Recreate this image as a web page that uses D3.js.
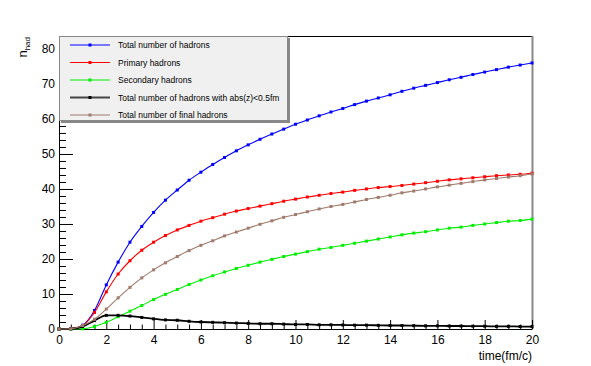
<!DOCTYPE html>
<html><head><meta charset="utf-8">
<script src="https://cdn.jsdelivr.net/npm/d3@7"></script>
<style>body{margin:0;background:#fff}svg{display:block}text{font-family:"Liberation Sans",Arial,sans-serif}</style>
</head><body>
<script>
const times = d3.range(0, 20.0001, 0.5);
const totalHadrons = [0,0.1,1.1,5.3,12.6,19.1,24.8,29.3,33.3,36.8,39.7,42.5,44.8,47.0,49.0,50.9,52.6,54.2,55.7,57.1,58.5,59.7,60.9,62.0,63.0,64.1,65.1,66.0,66.9,67.9,68.8,69.6,70.4,71.2,71.9,72.7,73.4,74.1,74.8,75.4,76.0];
const primaryHadrons = [0,0.1,1.0,4.7,10.6,15.7,19.5,22.5,24.8,26.7,28.3,29.6,30.8,31.8,32.8,33.7,34.4,35.1,35.8,36.5,37.1,37.7,38.2,38.7,39.1,39.6,40.0,40.4,40.7,41.0,41.4,41.8,42.2,42.6,42.9,43.2,43.5,43.8,44.0,44.2,44.5];
const secondaryHadrons = [0,0,0.05,0.7,1.9,3.5,5.1,6.7,8.4,9.9,11.3,12.7,14.0,15.2,16.3,17.3,18.2,19.1,19.9,20.7,21.4,22.1,22.8,23.3,23.9,24.5,25.1,25.7,26.3,26.9,27.4,27.8,28.3,28.8,29.1,29.6,30.0,30.4,30.8,31.0,31.4];
const centralHadrons = [0,0.05,0.7,2.4,3.9,3.9,3.7,3.3,2.9,2.6,2.5,2.2,2.0,1.9,1.8,1.7,1.6,1.5,1.5,1.4,1.3,1.3,1.2,1.2,1.15,1.1,1.1,1.05,1.0,1.0,0.95,0.9,0.9,0.85,0.85,0.8,0.8,0.75,0.75,0.7,0.7];
const finalHadrons = [0,0.05,1.0,2.8,5.7,8.9,11.9,14.6,16.9,18.9,20.7,22.4,23.9,25.2,26.6,27.7,28.8,29.9,30.9,31.9,32.7,33.5,34.3,35.0,35.6,36.3,37.0,37.6,38.2,38.9,39.4,40.0,40.6,41.1,41.6,42.1,42.6,43.0,43.4,43.8,44.3];
const seriesNames = ["Total number of hadrons","Primary hadrons","Secondary hadrons","Total number of hadrons with abs(z)<0.5fm","Total number of final hadrons"];
const seriesColors = ["#0000ff","#ff0000","#00ee00","#000000","#a07a6c"];
const seriesData = [totalHadrons, primaryHadrons, secondaryHadrons, centralHadrons, finalHadrons];
const xTicks = [0,2,4,6,8,10,12,14,16,18,20];
const yTicks = [0,10,20,30,40,50,60,70,80];

const W = 591, H = 366;
const L = 59, R = 532, T = 36, B = 329;
const svg = d3.select("body").append("svg").attr("width", W).attr("height", H);
const x = d3.scaleLinear().domain([0, 20]).range([L, R]);
const y = d3.scaleLinear().domain([0, 83.7]).range([B, T]);

// frame
svg.append("line").attr("x1", L).attr("x2", R).attr("y1", T + 0.5).attr("y2", T + 0.5).attr("stroke", "#000");
svg.append("line").attr("x1", R + 0.5).attr("x2", R + 0.5).attr("y1", T).attr("y2", B).attr("stroke", "#888").attr("stroke-width", 2);

// axes
const xAxis = d3.axisBottom(x).tickValues(xTicks).tickSize(0).tickPadding(6);
const gx = svg.append("g").attr("transform", `translate(0,${B})`).call(xAxis);
gx.select(".domain").attr("stroke", "#000");
gx.selectAll("text").attr("font-size", 12).attr("fill", "#000");
const xMinor = d3.range(0, 20.0001, 0.5);
svg.append("g").selectAll("line").data(xMinor).join("line")
  .attr("x1", d => x(d) + 0.5).attr("x2", d => x(d) + 0.5)
  .attr("y1", B).attr("y2", d => B - (d % 2 === 0 ? 9 : 4.5)).attr("stroke", "#000");

const yAxis = d3.axisLeft(y).tickValues(yTicks).tickSize(0).tickPadding(4);
const gy = svg.append("g").attr("transform", `translate(${L},0)`).call(yAxis);
gy.select(".domain").attr("stroke", "#000");
gy.selectAll("text").attr("font-size", 12).attr("fill", "#000");
const yMinor = d3.range(0, 83.7, 2);
svg.append("g").selectAll("line").data(yMinor).join("line")
  .attr("x1", L).attr("x2", d => L + (d % 10 === 0 ? 14 : 7))
  .attr("y1", d => y(d) + 0.5).attr("y2", d => y(d) + 0.5).attr("stroke", "#000");

// axis titles
svg.append("text").attr("x", R).attr("y", 360).attr("text-anchor", "end").attr("font-size", 12).text("time(fm/c)");
const yt = svg.append("text").attr("transform", "translate(27,37) rotate(-90)").attr("text-anchor", "end").attr("font-size", 13);
yt.append("tspan").text("n");
yt.append("tspan").attr("font-size", 8).attr("dy", 3).text("had");

// series
const line = d3.line().x((d, i) => x(times[i])).y(d => y(d)).curve(d3.curveMonotoneX);
seriesData.forEach((s, k) => {
  const g = svg.append("g");
  g.append("path").attr("d", line(s)).attr("fill", "none").attr("stroke", seriesColors[k])
    .attr("stroke-width", k === 3 ? 1.8 : 1.1);
  g.selectAll("rect").data(s).join("rect")
    .attr("x", (d, i) => x(times[i]) - 1.5).attr("y", d => y(d) - 1.5)
    .attr("width", 3).attr("height", 3).attr("fill", seriesColors[k]);
});

// legend
const lg = svg.append("g");
lg.append("rect").attr("x", 61).attr("y", 38).attr("width", 229).attr("height", 85).attr("fill", "#888");
lg.append("rect").attr("x", 59.5).attr("y", 36.5).attr("width", 228).attr("height", 84).attr("fill", "#f0f0f0").attr("stroke", "#888");
seriesNames.forEach((n, k) => {
  const yy = 45 + k * 17.5;
  lg.append("line").attr("x1", 70).attr("x2", 110).attr("y1", yy).attr("y2", yy)
    .attr("stroke", k === 3 ? "#444" : seriesColors[k]).attr("stroke-width", k === 3 ? 1.8 : 1.1);
  lg.append("rect").attr("x", 88.5).attr("y", yy - 1.5).attr("width", 3).attr("height", 3).attr("fill", seriesColors[k]);
  lg.append("text").attr("x", 118).attr("y", yy + 3).attr("font-size", 8.5).attr("fill", "#000").text(n);
});
</script>
</body></html>
